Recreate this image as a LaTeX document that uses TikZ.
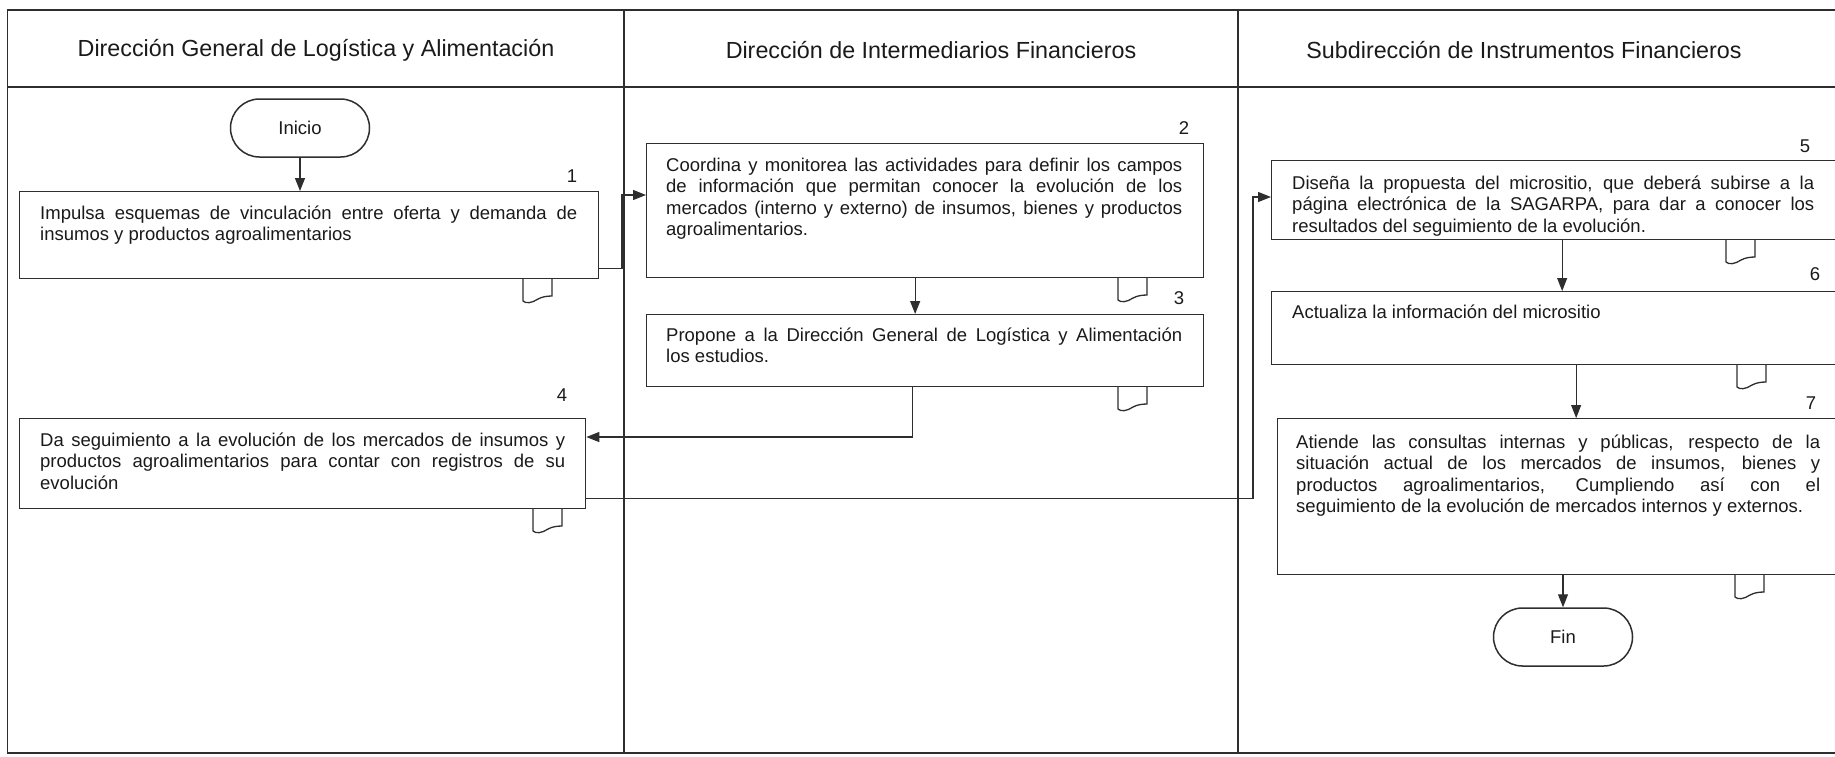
\documentclass[tikz,border=0pt]{standalone}
\usepackage{fontspec}
\setmainfont{Liberation Sans}
\usetikzlibrary{arrows.meta,calc}
\definecolor{linec}{HTML}{2E2E2E}
\definecolor{txtc}{HTML}{1A1A1A}
\newcommand{\bodyf}{\fontsize{18.5}{21.5}\selectfont\hyphenpenalty=10000 }
\newcommand{\headf}{\fontsize{23.3}{28}\selectfont}
\begin{document}
\begin{tikzpicture}[x=1pt,y=-1pt,
  lane/.style={draw=linec,line width=1.8pt},
  box/.style={draw=linec,line width=1.3pt,rectangle,inner sep=0pt,anchor=north west},
  txt/.style={anchor=north west,inner sep=0pt,text width=#1,align=justify,font=\bodyf,text=txtc},
  num/.style={inner sep=0pt,font=\bodyf,text=txtc},
  head/.style={inner sep=0pt,font=\headf,text=txtc},
  term/.style={draw=linec,line width=1.5pt,rectangle,rounded corners=29pt,minimum width=139pt,minimum height=58pt,font=\bodyf,text=txtc},
  conn/.style={draw=linec,line width=1.2pt,-{Triangle[length=13pt,width=10pt]}},
  docsym/.pic={\draw[draw=linec,line width=1.3pt] (0,0) -- (0,23) .. controls (3,26) and (9,25) .. (15,21) .. controls (19,19) and (23,18) .. (29,18) -- (29,0);}
]
\useasboundingbox (0,0) rectangle (1835,756);
% lanes
\draw[lane] (1840,10) -- (7.5,10) -- (7.5,753) -- (1840,753);
\draw[lane] (7.5,87) -- (1840,87);
\draw[lane] (624,10) -- (624,753);
\draw[lane] (1238,10) -- (1238,753);
\node[head] (h1) at (316,50) {Dirección General de Logística y Alimentación};
\node[head] (h2) at (931,50) {Dirección de Intermediarios Financieros};
\node[head] (h3) at (1524,50) {Subdirección de Instrumentos Financieros};

% terminals
\node[term] (ini) at (300,128) {Inicio};
\node[term] (fin) at (1563,637) {Fin};

% boxes
\node[box,minimum width=579pt,minimum height=87pt] (b1) at (19,191) {};
\node[box,minimum width=557pt,minimum height=134pt] (b2) at (646,143) {};
\node[box,minimum width=557pt,minimum height=72pt] (b3) at (646,314) {};
\node[box,minimum width=566pt,minimum height=90pt] (b4) at (19,418) {};
\node[box,minimum width=569pt,minimum height=79pt] (b5) at (1271,160) {};
\node[box,minimum width=569pt,minimum height=73pt] (b6) at (1271,291) {};
\node[box,minimum width=563pt,minimum height=156pt] (b7) at (1277,418) {};

% texts
\node[txt=537pt] (t1) at (40,204) {\strut Impulsa esquemas de vinculación entre oferta y demanda de\linebreak insumos y productos agroalimentarios};
\node[txt=516pt] (t2) at (666,156) {\strut Coordina y monitorea las actividades para definir los campos\linebreak de información que permitan conocer la evolución de los\linebreak mercados (interno y externo) de insumos, bienes y productos\linebreak agroalimentarios.};
\node[txt=516pt] (t3) at (666,326) {\strut Propone a la Dirección General de Logística y Alimentación\linebreak los estudios.};
\node[txt=525pt] (t4) at (40,431) {\strut Da seguimiento a la evolución de los mercados de insumos y\linebreak productos agroalimentarios para contar con registros de su\linebreak evolución};
\node[txt=522pt] (t5) at (1292,174) {\strut Diseña la propuesta del micrositio, que deberá subirse a la\linebreak página electrónica de la SAGARPA, para dar a conocer los\linebreak resultados del seguimiento de la evolución.};
\node[txt=522pt] (t6) at (1292,303) {\strut Actualiza la información del micrositio};
\node[txt=524pt] (t7) at (1296,433) {\strut Atiende las consultas internas y públicas, respecto de la\linebreak situación actual de los mercados de insumos, bienes y\linebreak productos agroalimentarios, Cumpliendo así con el\linebreak seguimiento de la evolución de mercados internos y externos.};

% numbers
\node[num] (n1) at (572,176) {1};
\node[num] (n2) at (1184,128) {2};
\node[num] (n3) at (1179,298) {3};
\node[num] (n4) at (562,395) {4};
\node[num] (n5) at (1805,146) {5};
\node[num] (n6) at (1815,274) {6};
\node[num] (n7) at (1811,403) {7};

% document symbols
\pic at (523,278) {docsym};
\pic at (1118,277) {docsym};
\pic at (1118,386) {docsym};
\pic at (533,508) {docsym};
\pic at (1726,239) {docsym};
\pic at (1737,364) {docsym};
\pic at (1735,574) {docsym};

% connectors
\coordinate (in2) at ([yshift=-52pt]b2.north west);
\coordinate (in4) at ([yshift=-19pt]b4.north east);
\coordinate (in5) at ([yshift=-37pt]b5.north west);
\draw[conn] (ini.south) -- (ini.south |- b1.north);
\draw[conn] ([yshift=11pt]b1.south east) -| ([xshift=-24pt]in2) -- (in2);
\draw[conn] ([xshift=-10pt]b2.south) -- ([xshift=-10pt]b3.north);
\draw[conn] ([xshift=-13pt]b3.south) |- (in4);
\draw[conn] ([yshift=11pt]b4.south east) -| ([xshift=-18pt]in5) -- (in5);
\draw[conn] ([xshift=6pt]b5.south) -- ([xshift=6pt]b5.south |- b6.north);
\draw[conn] ([xshift=20pt]b6.south) -- ([xshift=20pt]b6.south |- b7.north);
\draw[conn] (fin.north |- b7.south) -- (fin.north);
\end{tikzpicture}
\end{document}
